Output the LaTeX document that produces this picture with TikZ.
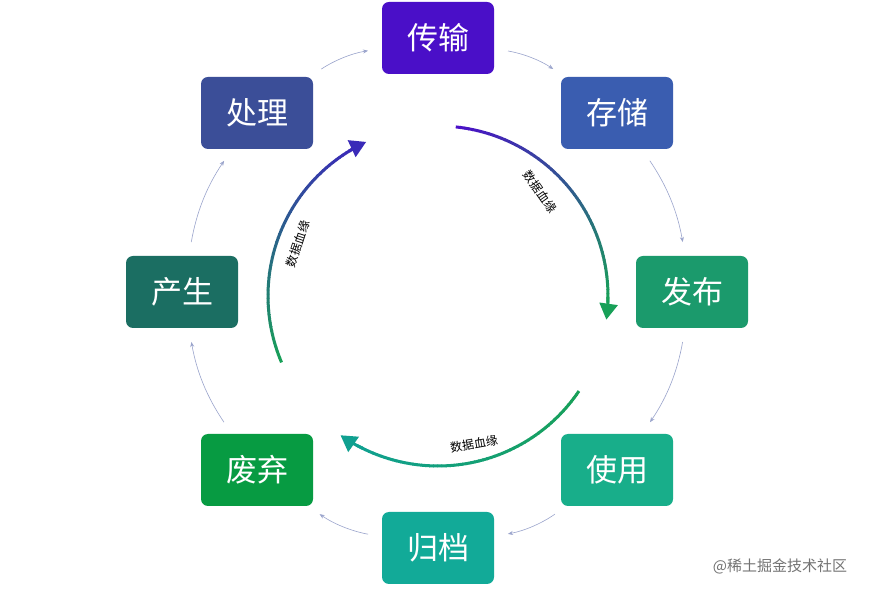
\documentclass[tikz,border=0pt]{standalone}
\usepackage{fontspec}
\setmainfont{Noto Sans CJK SC}
\usetikzlibrary{arrows.meta}
\definecolor{cA}{HTML}{4A0FC8}
\definecolor{cB}{HTML}{3A5DB0}
\definecolor{cC}{HTML}{1B9A6C}
\definecolor{cD}{HTML}{18AE8A}
\definecolor{cE}{HTML}{12AA98}
\definecolor{cF}{HTML}{079B42}
\definecolor{cG}{HTML}{1B6E62}
\definecolor{cH}{HTML}{3B4E98}
\definecolor{gp}{HTML}{4A0FC8}
\definecolor{gg}{HTML}{18A058}
\definecolor{gt}{HTML}{10A090}
\definecolor{gb}{HTML}{3A2AB8}
\definecolor{thin}{HTML}{9AA4CC}
\tikzset{
  box/.style={rounded corners=7pt, minimum width=112pt, minimum height=72pt, text=white, font=\fontsize{31}{33}\selectfont, inner sep=0pt},
  outer/.style={draw=thin, line width=0.6pt, -{Stealth[length=5pt,width=4pt]}, shorten <=14pt, shorten >=14pt},
  lbl/.style={font=\fontsize{12}{13}\selectfont, text=black}
}
\newcommand{\gradarc}[5]{% start angle, end angle, color1, color2, tip extension
  \foreach \i in {0,...,59}{
    \pgfmathsetmacro{\sa}{#1+(#2-#1)*\i/60}
    \pgfmathsetmacro{\ea}{#1+(#2-#1)*(\i+1.15)/60}
    \pgfmathsetmacro{\pp}{100-100*\i/59}
    \draw[#3!\pp!#4, line width=3pt] ([shift={(\sa:170pt)}]ctr) arc[start angle=\sa, end angle=\ea, radius=170pt];
  }
  \pgfmathsetmacro{\ts}{#2-(#2-#1)*0.02}
  \pgfmathsetmacro{\te}{#2+#5}
  \draw[#4, line width=3pt, -{Triangle[length=16pt,width=18pt]}] ([shift={(\ts:170pt)}]ctr) arc[start angle=\ts, end angle=\te, radius=170pt];
}
\begin{document}
\begin{tikzpicture}[x=1pt,y=1pt]
\useasboundingbox (0,0) rectangle (875,594);
\fill[white] (0,0) rectangle (875,594);
\coordinate (ctr) at (438,298);
\node[box, fill=cA] (a) at (438,556) {传输};
\node[box, fill=cB] (b) at (617,481) {存储};
\node[box, fill=cC] (c) at (692,302) {发布};
\node[box, fill=cD] (d) at (617,124) {使用};
\node[box, fill=cE] (e) at (438,46) {归档};
\node[box, fill=cF] (f) at (257,124) {废弃};
\node[box, fill=cG] (g) at (182,302) {产生};
\node[box, fill=cH] (h) at (257,481) {处理};
\draw[outer] (a) to[bend left=12] (b);
\draw[outer] (b) to[bend left=12] (c);
\draw[outer] (c) to[bend left=12] (d);
\draw[outer] (d) to[bend left=12] (e);
\draw[outer] (e) to[bend left=12] (f);
\draw[outer] (f) to[bend left=12] (g);
\draw[outer] (g) to[bend left=12] (h);
\draw[outer] (h) to[bend left=12] (a);
\gradarc{84}{-2}{gp}{gg}{-6}
\gradarc{-34}{-118}{gg}{gt}{-7}
\gradarc{203}{120}{gg}{gb}{-5}
\node[lbl, rotate=-55] (l1) at (540,402) {数据血缘};
\node[lbl, rotate=10] (l2) at (474,150) {数据血缘};
\node[lbl, rotate=72] (l3) at (298,350) {数据血缘};
\node[font=\fontsize{15}{17}\selectfont, text=black!55] (wm) at (780,28) {@稀土掘金技术社区};
\end{tikzpicture}
\end{document}
